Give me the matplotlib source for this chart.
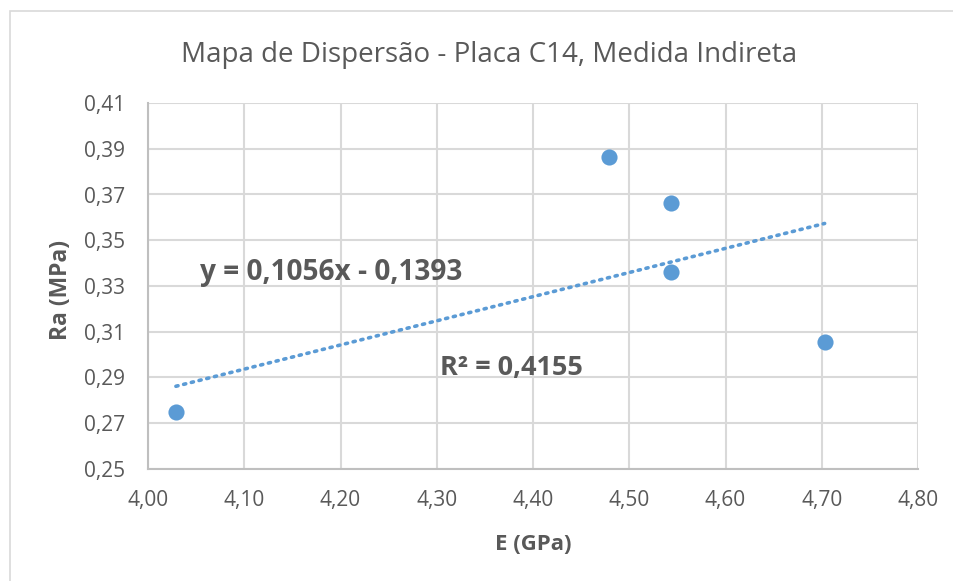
import matplotlib
matplotlib.use('Agg')
from matplotlib import pyplot as plt
from matplotlib.patches import Rectangle
import numpy as np

# values
e_gpa = [4.029, 4.479, 4.543, 4.543, 4.703]
ra_mpa = [0.275, 0.3865, 0.3665, 0.336, 0.3055]
slope, intercept = 0.1056, -0.1393
r2 = 0.4155
x_ticks = [4.0, 4.1, 4.2, 4.3, 4.4, 4.5, 4.6, 4.7, 4.8]
y_ticks = [0.25, 0.27, 0.29, 0.31, 0.33, 0.35, 0.37, 0.39, 0.41]

blue = '#5B9BD5'
grey_txt = '#595959'
grid_col = '#D9D9D9'

plt.rcParams['font.family'] = ['Open Sans', 'DejaVu Sans']

fig = plt.figure(figsize=(9.54, 5.81), dpi=100)
fig.patches.append(Rectangle((10 / 954, -0.1), 1.2, 1.1 - 11 / 581,
                             transform=fig.transFigure, fill=False,
                             edgecolor='#D9D9D9', linewidth=1.2))
ax = fig.add_axes([148 / 954, 1 - 469 / 581, 770 / 954, 366 / 581])

ax.scatter(e_gpa, ra_mpa, s=135, color=blue, zorder=3, linewidths=0)

xs = np.linspace(min(e_gpa), max(e_gpa), 50)
ax.plot(xs, slope * xs + intercept, linestyle=(0, (0.6, 1.6)),
        color=blue, linewidth=2.6, dash_capstyle='round', zorder=2)

ax.set_xlim(4.0, 4.8)
ax.set_ylim(0.25, 0.41)
ax.set_xticks(x_ticks)
ax.set_yticks(y_ticks)
ax.set_xticklabels([('%.2f' % v).replace('.', ',') for v in x_ticks])
ax.set_yticklabels([('%.2f' % v).replace('.', ',') for v in y_ticks])
ax.tick_params(length=0, labelsize=15, labelcolor=grey_txt)
ax.tick_params(axis='y', pad=16.5)
ax.tick_params(axis='x', pad=15)

ax.grid(True, color=grid_col, linewidth=1.5)
ax.set_axisbelow(True)
for side in ('top', 'right'):
    ax.spines[side].set_visible(False)
for side in ('left', 'bottom'):
    ax.spines[side].set_color('#BFBFBF')
    ax.spines[side].set_linewidth(1.5)

fig.text(533 / 954, 1 - 545 / 581, 'E (GPa)', fontsize=16, fontweight='bold',
         color=grey_txt, ha='center', va='center')
fig.text(61 / 954, 1 - 290 / 581, 'Ra (MPa)', fontsize=16.5, fontweight='bold',
         color=grey_txt, ha='center', va='center', rotation=90)

fig.text(489 / 954, 1 - 55 / 581, 'Mapa de Dispersão - Placa C14, Medida Indireta',
         fontsize=20, color=grey_txt, ha='center', va='center')

ax.text(4.054, 0.336, 'y = 0,1056x - 0,1393', fontsize=20.2, fontweight='bold',
        color=grey_txt, ha='left', va='center')
ax.text(4.303, 0.294, 'R² = %s' % str(r2).replace('.', ','), fontsize=19.5,
        fontweight='bold', color=grey_txt, ha='left', va='center')

fig.savefig('out.png', dpi=100)
